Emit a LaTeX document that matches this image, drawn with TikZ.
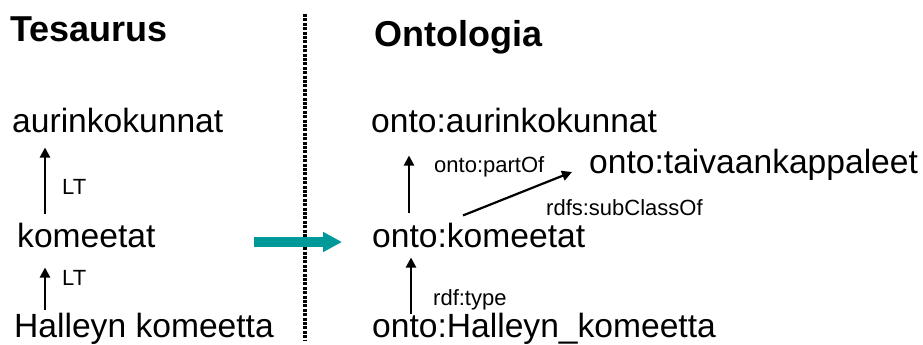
\documentclass[tikz,border=0pt]{standalone}
\usepackage{fontspec}
\setmainfont{Liberation Sans}
\usetikzlibrary{arrows.meta,calc}

\definecolor{arrowteal}{RGB}{0,153,153}

\tikzset{
  txt/.style={anchor=base west, inner sep=0pt, font=\fontsize{33.6pt}{40pt}\selectfont},
  title/.style={anchor=base west, inner sep=0pt, font=\fontsize{36pt}{43pt}\selectfont\bfseries},
  lbl/.style={anchor=base west, inner sep=0pt, font=\fontsize{22pt}{26pt}\selectfont},
  rel/.style={line width=2.2pt, -{Triangle[length=10pt,width=10pt]}},
  divider/.style={line width=3.4pt, dash pattern=on 3pt off 1.4pt},
  bigarrow/.style={line width=10pt, arrowteal, -{Triangle[length=19pt,width=19pt]}}
}

\begin{document}
\begin{tikzpicture}[x=1pt,y=1pt]
\useasboundingbox (0,0) rectangle (923,-345);

% column titles
\node[title] (tes) at (10,-42) {Tesaurus};
\node[title] (ont) at (374,-47) {Ontologia};

% thesaurus terms
\node[txt] (aur) at (12,-132) {aurinkokunnat};
\node[txt] (kom) at (17,-247) {komeetat};
\node[txt] (hal) at (14,-337) {Halleyn komeetta};

% ontology terms
\node[txt] (oaur) at (371,-132) {onto:aurinkokunnat};
\node[txt] (otai) at (589,-173) {onto:taivaankappaleet};
\node[txt] (okom) at (372,-247) {onto:komeetat};
\node[txt] (ohal) at (372,-337) {onto:Halleyn\_komeetta};

% relation labels
\node[lbl] (lt1) at (62,-194) {LT};
\node[lbl] (lt2) at (62,-285) {LT};
\node[lbl] (part) at (434,-172) {onto:partOf};
\node[lbl] (sub) at (546,-215) {rdfs:subClassOf};
\node[lbl] (typ) at (433,-305) {rdf:type};

% thesaurus broader-term links
\draw[rel] ($(kom.north west)+(28,8)$) -- ($(aur.south west)+(33,-15)$);
\draw[rel] ($(hal.north west)+(31,2)$) -- ($(kom.south west)+(28,-20)$);

% ontology links
\draw[rel] ($(okom.north west)+(37,9)$) -- ($(oaur.south west)+(38,-23)$);
\draw[rel] ($(okom.north west)+(91,7)$) -- ($(otai.base west)+(-17,1)$);
\draw[rel] ($(ohal.north west)+(39,-2)$) -- ($(okom.south west)+(39,-10)$);

% dotted divider
\coordinate (dtop) at (305,-14);
\coordinate (dbot) at (305,-340);
\draw[divider] (dtop) -- (dbot);

% conversion arrow
\coordinate (bs) at (254,-242);
\coordinate (be) at (342,-242);
\draw[bigarrow] (bs) -- (be);
\end{tikzpicture}
\end{document}
